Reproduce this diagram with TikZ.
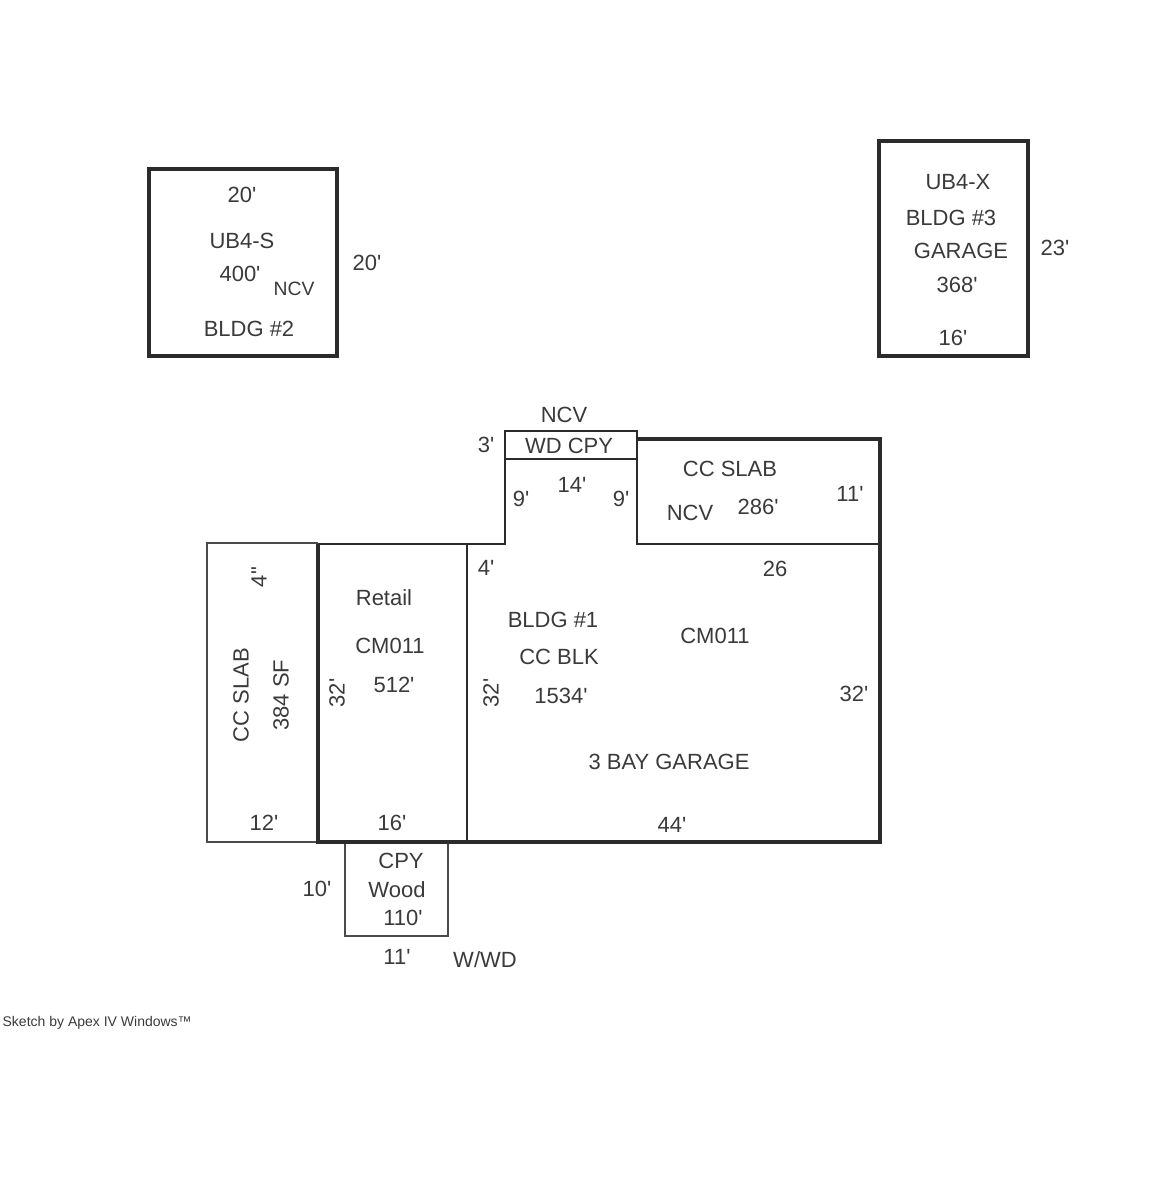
\documentclass[tikz,border=0pt]{standalone}
\usepackage{fontspec}
\setmainfont{Liberation Sans}[Ligatures=TeXOff]
\definecolor{ink}{HTML}{2B2B2B}
\definecolor{txt}{HTML}{3A3A3A}
\tikzset{
 wall/.style={draw=ink,line width=2.6pt,line join=miter},
 outb/.style={draw=ink,line width=2.4pt,line join=miter},
 midwall/.style={draw=ink,line width=2pt},
 thinwall/.style={draw=ink!85,line width=1pt},
 lab/.style={inner sep=0pt,text=txt,font=\fontsize{16.5}{18}\selectfont},
 small/.style={lab,font=\fontsize{14.5}{16}\selectfont},
 tiny/.style={inner sep=0pt,text=txt,font=\fontsize{10.5}{12}\selectfont}
}
\begin{document}
\begin{tikzpicture}[x=0.75pt,y=-0.75pt]
\useasboundingbox (0,0) rectangle (1156,1200);
% outbuildings
\draw[outb] (149,169) rectangle (337,356);
\draw[outb] (879,141) rectangle (1028,356);
% main building
\draw[thinwall] (318,543) -- (207,543) -- (207,842) -- (318,842);
\draw[thinwall] (345,842) -- (345,936) -- (448,936) -- (448,842);
\draw[midwall] (318,544) -- (505,544) -- (505,431) -- (637,431) -- (637,544) -- (880,544);
\draw[midwall] (505,459) -- (637,459);
\draw[midwall] (467,544) -- (467,842);
\draw[wall] (637,439) -- (880,439) -- (880,842) -- (318,842) -- (318,544);
% labels: building 2
\node[lab] (a1) at (242,195) {20'};
\node[lab] (a2) at (242,241) {UB4-S};
\node[lab] (a3) at (240,274) {400'};
\node[small] (a4) at (294,289) {NCV};
\node[lab] (a5) at (249,329) {BLDG \#2};
\node[lab] (a6) at (367,263) {20'};
% labels: building 3
\node[lab] (b1) at (958,182) {UB4-X};
\node[lab] (b2) at (951,218) {BLDG \#3};
\node[lab] (b3) at (961,251) {GARAGE};
\node[lab] (b4) at (957,285) {368'};
\node[lab] (b5) at (953,338) {16'};
\node[lab] (b6) at (1055,248) {23'};
% labels: top of main
\node[lab] (c1) at (564,415) {NCV};
\node[lab] (c2) at (569,446) {WD CPY};
\node[lab] (c3) at (486,445) {3'};
\node[lab] (c4) at (572,485) {14'};
\node[lab] (c5) at (521,499) {9'};
\node[lab] (c6) at (621,499) {9'};
\node[lab] (c7) at (730,469) {CC SLAB};
\node[lab] (c8) at (690,513) {NCV};
\node[lab] (c9) at (758,507) {286'};
\node[lab] (c10) at (850,494) {11'};
\node[lab] (c11) at (486,568) {4'};
\node[lab] (c12) at (775,569) {26};
% labels: left slab
\node[lab,rotate=90] (d1) at (259,577) {4"};
\node[lab,rotate=90] (d2) at (241,695) {CC SLAB};
\node[lab,rotate=90] (d3) at (281,695) {384 SF};
\node[lab] (d4) at (264,823) {12'};
% labels: retail
\node[lab] (e1) at (384,598) {Retail};
\node[lab] (e2) at (390,646) {CM011};
\node[lab] (e3) at (394,685) {512'};
\node[lab,rotate=90] (e4) at (337,693) {32'};
\node[lab] (e5) at (392,823) {16'};
% labels: garage
\node[lab,rotate=90] (f1) at (491,693) {32'};
\node[lab] (f2) at (553,620) {BLDG \#1};
\node[lab] (f3) at (559,657) {CC BLK};
\node[lab] (f4) at (561,696) {1534'};
\node[lab] (f5) at (715,636) {CM011};
\node[lab] (f6) at (854,694) {32'};
\node[lab] (f7) at (669,762) {3 BAY GARAGE};
\node[lab] (f8) at (672,825) {44'};
% labels: canopy
\node[lab] (g1) at (401,861) {CPY};
\node[lab] (g2) at (397,890) {Wood};
\node[lab] (g3) at (403,918) {110'};
\node[lab] (g4) at (317,889) {10'};
\node[lab] (g5) at (397,957) {11'};
\node[lab] (g6) at (485,960) {W/WD};
% credit
\node[tiny,anchor=east] (h1) at (192,1023) {Sketch by Apex IV Windows™};
\end{tikzpicture}
\end{document}
